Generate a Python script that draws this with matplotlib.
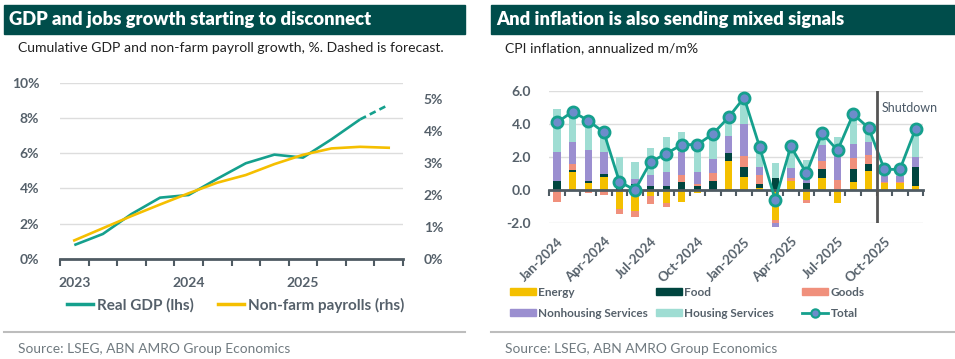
import numpy as np
import matplotlib
matplotlib.use("Agg")
import matplotlib.pyplot as plt
from matplotlib.patches import Rectangle, Patch
from matplotlib.lines import Line2D

plt.rcParams['font.family'] = ['Lato', 'DejaVu Sans']

# ---- left panel data: cumulative growth, % ----
quarters = ['Q1 2023', 'Q2 2023', 'Q3 2023', 'Q4 2023',
            'Q1 2024', 'Q2 2024', 'Q3 2024', 'Q4 2024',
            'Q1 2025', 'Q2 2025', 'Q3 2025', 'Q4 2025']
gdp = [0.79, 1.42, 2.55, 3.48, 3.63, 4.55, 5.43, 5.92, 5.75, 6.79, 7.92, 8.75]
payrolls = [0.58, 0.96, 1.34, 1.70, 2.05, 2.38, 2.62, 2.96, 3.25, 3.45, 3.50, 3.47]
n_actual = 11  # last gdp point is forecast
year_labels = ['2023', '2024', '2025']

# ---- right panel data: CPI contributions, annualized m/m% ----
months = ['Jan-2024', 'Feb-2024', 'Mar-2024', 'Apr-2024', 'May-2024', 'Jun-2024',
          'Jul-2024', 'Aug-2024', 'Sep-2024', 'Oct-2024', 'Nov-2024', 'Dec-2024',
          'Jan-2025', 'Feb-2025', 'Mar-2025', 'Apr-2025', 'May-2025', 'Jun-2025',
          'Jul-2025', 'Aug-2025', 'Sep-2025', 'Oct-2025', 'Nov-2025', 'Dec-2025']
energy = [0, 1.09, 0.44, 0.8, -1.16, -1.29, -0.36, -0.81, -0.73, -0.16, 0, 1.78,
          0.77, 0.12, -1.82, 0.55, -0.62, 0.71, -0.8, 0.51, 1.16, 0.4, 0.4, 0.25]
food = [0.57, 0.1, 0.1, 0.19, 0.16, 0.37, 0.24, 0.24, 0.48, 0.26, 0.57, 0.47,
        0.61, 0.22, 0.7, -0.05, 0.45, 0.58, 0, 0.78, 0.44, 0.05, 0.05, 1.15]
goods = [-0.73, 0.4, -0.2, -0.28, -0.31, -0.36, -0.49, -0.24, 0.41, 0.1, 0.48, 0,
         0.67, 0.57, -0.2, 0.15, -0.18, 0.44, 0.6, 0.65, 0.5, 0.05, 0.05, 0]
nonhousing = [1.73, 1.3, 1.87, 1.31, 0.05, 0.3, 0.66, 0.87, 1.41, 0.76, 0.85, 1.02,
              1.97, 0.47, -0.2, 0.65, 0.3, 0.97, 1.75, 0.82, 0.8, 0.35, 0.35, 0.58]
housing = [2.59, 1.85, 2.0, 1.5, 1.78, 1.02, 1.65, 2.12, 1.24, 1.79, 1.5, 1.13,
           1.58, 1.22, 0.96, 1.35, 1.07, 0.8, 0.85, 1.84, 0.85, 0.4, 0.4, 1.72]
total = [4.1, 4.75, 4.2, 3.5, 0.5, 0.0, 1.7, 2.2, 2.75, 2.75, 3.4, 4.4,
         5.6, 2.6, -0.6, 2.65, 1.0, 3.45, 2.4, 4.6, 3.75, 1.25, 1.25, 3.7]
shutdown_after = 'Sep-2025'

HEAD = '#004d4b'
AXC = '#4f5b63'
TXT = '#55606a'
GRID = '#dddddd'
TEAL = '#15a08d'
YEL = '#f5bf00'

fig = plt.figure(figsize=(9.55, 3.59), dpi=100)

# headers, subtitles, separators, sources
for x0, x1, title, sub in [(4, 465, 'GDP and jobs growth starting to disconnect',
                            'Cumulative GDP and non-farm payroll growth, %. Dashed is forecast.'),
                           (491, 955, 'And inflation is also sending mixed signals',
                            'CPI inflation, annualized m/m%')]:
    fig.patches.append(Rectangle((x0 / 955, 1 - 33.5 / 359), (x1 - x0) / 955, 28.5 / 359,
                                 transform=fig.transFigure, color=HEAD, zorder=0))
    fig.text((x0 + 5) / 955, 1 - 19.5 / 359, title, color='white', fontsize=13.2,
             fontweight='heavy', va='center', ha='left')
    fig.text((x0 + 14) / 955, 1 - 48.5 / 359, sub, color='#222222', fontsize=10.1,
             va='center', ha='left')
    fig.add_artist(Line2D([x0 / 955, x1 / 955], [1 - 331.5 / 359] * 2,
                          transform=fig.transFigure, color='#bdbdbd', lw=1.5))
    fig.text((x0 + 14) / 955, 1 - 349 / 359, 'Source: LSEG, ABN AMRO Group Economics',
             color='#707a80', fontsize=9.9, va='center', ha='left')

# ---------------- left chart ----------------
axl = fig.add_axes([60 / 955, 1 - 259 / 359, 343 / 955, 176.3 / 359])
xq = np.arange(len(quarters))
axl.plot(xq[:n_actual], gdp[:n_actual], color=TEAL, lw=1.9, label='Real GDP (lhs)',
         solid_capstyle='butt')
axl.plot(xq[n_actual - 1:], gdp[n_actual - 1:], color=TEAL, lw=1.9, ls=(0, (2.5, 1.6)))
axl.set_xlim(-0.5, len(quarters) - 0.5)
axl.set_ylim(0, 10)
axl.set_yticks(np.arange(0, 11, 2))
axl.set_yticklabels([f'{v}%' for v in range(0, 11, 2)])
axl.grid(axis='y', color=GRID, lw=1)
axl.set_axisbelow(True)
for s in ['top', 'right', 'left']:
    axl.spines[s].set_visible(False)
axl.spines['bottom'].set_color(AXC)
axl.spines['bottom'].set_linewidth(2)
axl.set_xticks(np.arange(-0.5, len(quarters), 1), minor=True)
axl.set_xticks([quarters.index('Q1 ' + y) for y in year_labels])
axl.set_xticklabels(year_labels)
axl.tick_params(axis='x', which='major', length=0, pad=13, labelsize=10, labelcolor=TXT)
axl.tick_params(axis='x', which='minor', length=5, width=1.5, color=AXC, direction='out')
axl.tick_params(axis='y', length=0, pad=15, labelsize=10, labelcolor=TXT)
for lab in axl.get_xticklabels() + axl.get_yticklabels():
    lab.set_fontweight('bold')

axr2 = axl.twinx()
axr2.plot(xq, payrolls, color=YEL, lw=1.9, label='Non-farm payrolls (rhs)')
axr2.set_ylim(0, 5.5)
axr2.set_yticks(range(0, 6))
axr2.set_yticklabels([f'{v}%' for v in range(0, 6)])
axr2.tick_params(axis='y', length=0, pad=15, labelsize=10, labelcolor=TXT)
for lab in axr2.get_yticklabels():
    lab.set_fontweight('bold')
for s in axr2.spines.values():
    s.set_visible(False)

hl = [Line2D([], [], color=TEAL, lw=2.5), Line2D([], [], color=YEL, lw=2.5)]
fig.legend(hl, ['Real GDP (lhs)', 'Non-farm payrolls (rhs)'], loc='center',
           bbox_to_anchor=(236 / 955, 1 - 305 / 359), ncol=2, frameon=False,
           handlelength=1.7, handletextpad=0.25, columnspacing=1.6,
           prop={'weight': 'bold', 'size': 11}, labelcolor=TXT)

# ---------------- right chart ----------------
axc = fig.add_axes([549.3 / 955, 1 - 223 / 359, 374 / 955, 132 / 359])
xm = np.arange(len(months))
series = [('Energy', energy, '#f4c000'), ('Food', food, '#00453f'),
          ('Goods', goods, '#f0907c'), ('Nonhousing Services', nonhousing, '#9b8fd0'),
          ('Housing Services', housing, '#9fddd3')]
pos_base = np.zeros(len(months))
neg_base = np.zeros(len(months))
handles = {}
for name, vals, col in series:
    v = np.array(vals, dtype=float)
    base = np.where(v >= 0, pos_base, neg_base)
    axc.bar(xm, v, 0.47, bottom=base, color=col, zorder=2, clip_on=False)
    handles[name] = Patch(color=col)
    pos_base += np.where(v >= 0, v, 0)
    neg_base += np.where(v < 0, v, 0)

axc.plot(xm, total, color=TEAL, lw=2, marker='o', ms=8, mfc='#6d8ccb', mec=TEAL,
         mew=2, zorder=4, clip_on=False)
handles['Total'] = Line2D([], [], color=TEAL, lw=2, marker='o', ms=6, mfc='#6d8ccb',
                          mec=TEAL, mew=1.5)

axc.set_xlim(-0.5, len(months) - 0.5)
axc.set_ylim(-2, 6)
axc.set_yticks([-2, 0, 2, 4, 6])
axc.set_yticklabels([f'{v:.1f}' for v in [-2, 0, 2, 4, 6]])
axc.grid(axis='y', color=GRID, lw=1, zorder=0)
axc.set_axisbelow(True)
for s in axc.spines.values():
    s.set_visible(False)
axc.set_xticks(xm[::3])
axc.set_xticklabels(months[::3], rotation=45, ha='right', rotation_mode='anchor')
axc.tick_params(axis='x', length=0, pad=9, labelsize=9.5, labelcolor=TXT)
axc.tick_params(axis='y', length=0, pad=13, labelsize=10, labelcolor=TXT)
for lab in axc.get_xticklabels() + axc.get_yticklabels():
    lab.set_fontweight('bold')

# zero line with month ticks
sec = axc.secondary_xaxis(0.25)
sec.set_xticks(np.arange(-0.5, len(months), 1))
sec.set_xticklabels([])
sec.tick_params(length=4, width=1.5, color=AXC, direction='out')
sec.spines['bottom'].set_color(AXC)
sec.spines['bottom'].set_linewidth(2)
sec.set_zorder(3)

sx = months.index(shutdown_after) + 0.5
axc.axvline(sx, ymin=0, ymax=1, color='#555555', lw=2, zorder=5)
axc.text(sx + 0.35, 5.0, 'Shutdown', color='#4a5866', fontsize=9, va='center', ha='left')

cols = [['Energy', 'Nonhousing Services'], ['Food', 'Housing Services'], ['Goods', 'Total']]
for i, names in enumerate(cols):
    fig.legend([handles[n] for n in names], names, loc='upper left',
               bbox_to_anchor=((511 + 146 * i) / 955 - 0.001, 1 - 286.5 / 359),
               frameon=False, handlelength=2.2, handleheight=0.6, handletextpad=0.2,
               labelspacing=0.85, borderpad=0, borderaxespad=0,
               prop={'weight': 'bold', 'size': 8.5}, labelcolor=TXT)

fig.savefig('out.png', dpi=100)
